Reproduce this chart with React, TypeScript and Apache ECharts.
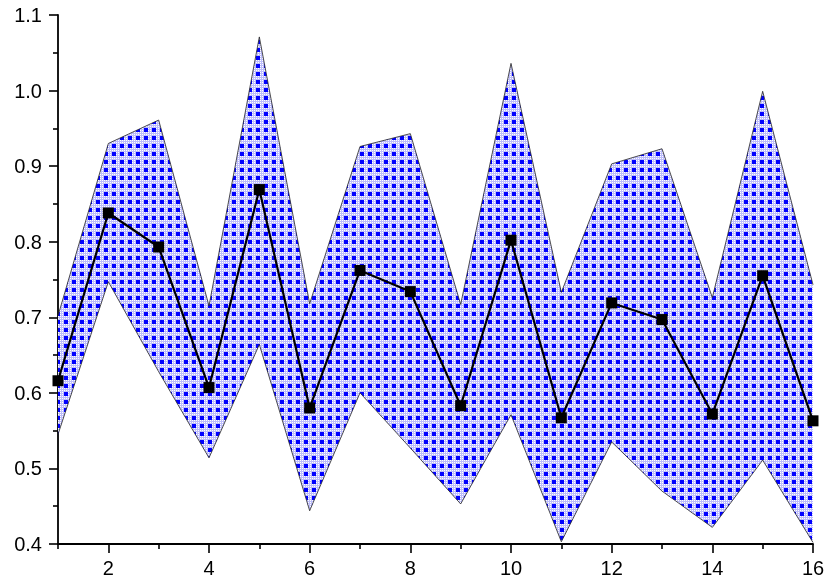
import React, { useEffect, useRef } from "react";
import * as echarts from "echarts";

const xValues = [1, 2, 3, 4, 5, 6, 7, 8, 9, 10, 11, 12, 13, 14, 15, 16];
const meanValues = [0.616, 0.838, 0.793, 0.607, 0.869, 0.580, 0.762, 0.734, 0.583, 0.802, 0.567, 0.719, 0.697, 0.572, 0.755, 0.563];
const upperValues = [0.702, 0.930, 0.961, 0.715, 1.071, 0.718, 0.926, 0.943, 0.717, 1.036, 0.733, 0.903, 0.923, 0.726, 0.999, 0.743];
const lowerValues = [0.545, 0.747, 0.628, 0.514, 0.664, 0.444, 0.600, 0.527, 0.453, 0.571, 0.403, 0.535, 0.470, 0.422, 0.511, 0.402];
const xMajorTicks = [2, 4, 6, 8, 10, 12, 14, 16];
const xMinorTicks = [1, 3, 5, 7, 9, 11, 13, 15];

function makePattern(): HTMLCanvasElement {
  const c = document.createElement("canvas");
  c.width = 8;
  c.height = 8;
  const ctx = c.getContext("2d")!;
  ctx.fillStyle = "#ffffff";
  ctx.fillRect(0, 0, 8, 8);
  ctx.fillStyle = "#bcbcfc";
  const hash = (ox: number, oy: number) => {
    for (let i = 0; i < 4; i++) {
      for (let j = 0; j < 4; j++) {
        if (i === 1 || i === 3 || j === 1 || j === 3) ctx.fillRect(ox + i, oy + j, 1, 1);
      }
    }
  };
  hash(4, 0);
  hash(0, 4);
  hash(4, 4);
  ctx.fillStyle = "#0000ff";
  ctx.fillRect(0, 0, 4, 4);
  return c;
}

export default function App() {
  const ref = useRef<HTMLDivElement>(null);
  useEffect(() => {
    if (!ref.current) return;
    const chart = echarts.init(ref.current, null, { renderer: "svg" });
    const canvas = makePattern();
    const font = "'Liberation Sans', Arial, sans-serif";
    const lower = xValues.map((x, i) => [x, lowerValues[i]]);
    const upper = xValues.map((x, i) => [x, upperValues[i]]);
    const mean = xValues.map((x, i) => [x, meanValues[i]]);
    const band = xValues.map((x, i) => [x, lowerValues[i], upperValues[i]]);
    chart.setOption({
      animation: false,
      grid: { left: 58, right: 17, top: 15, bottom: 43, containLabel: false },
      xAxis: [
        {
          type: "value",
          min: 1,
          max: 16,
          axisLine: { show: true, lineStyle: { color: "#000", width: 1.8 } },
          axisTick: { show: true, customValues: xMajorTicks, length: 9, lineStyle: { color: "#000", width: 1.6 } },
          axisLabel: { customValues: xMajorTicks, margin: 14, color: "#000", fontSize: 20, fontFamily: font },
          splitLine: { show: false },
        },
        {
          type: "value",
          min: 1,
          max: 16,
          position: "bottom",
          axisLine: { show: false },
          axisTick: { show: true, customValues: xMinorTicks, length: 5, lineStyle: { color: "#000", width: 1.6 } },
          axisLabel: { show: false },
          splitLine: { show: false },
        },
      ],
      yAxis: {
        type: "value",
        min: 0.4,
        max: 1.1,
        interval: 0.1,
        axisLine: { show: true, lineStyle: { color: "#000", width: 1.8 } },
        axisTick: { show: true, length: 9, lineStyle: { color: "#000", width: 1.6 } },
        minorTick: { show: true, splitNumber: 2, length: 5, lineStyle: { color: "#000", width: 1.6 } },
        axisLabel: {
          margin: 16,
          color: "#000",
          fontSize: 20,
          fontFamily: font,
          formatter: (v: number) => v.toFixed(1),
        },
        splitLine: { show: false },
      },
      series: [
        {
          type: "custom",
          data: band,
          encode: { x: 0, y: [1, 2] },
          z: 1,
          renderItem: (params: any, api: any) => {
            if (params.dataIndex !== 0) return null;
            const top = band.map((d) => api.coord([d[0], d[2]]));
            const bottom = band.map((d) => api.coord([d[0], d[1]])).reverse();
            return {
              type: "polygon",
              shape: { points: top.concat(bottom) },
              style: {
                fill: { image: canvas, repeat: "repeat", imageWidth: 8, imageHeight: 8 },
                stroke: "none",
              },
            };
          },
        },
        {
          type: "line",
          data: upper,
          symbol: "none",
          lineStyle: { color: "#222", width: 0.8 },
          z: 2,
        },
        {
          type: "line",
          data: lower,
          symbol: "none",
          lineStyle: { color: "#222", width: 0.8 },
          z: 2,
        },
        {
          type: "line",
          data: mean,
          symbol: "rect",
          symbolSize: 11,
          itemStyle: { color: "#000" },
          lineStyle: { color: "#000", width: 2.2 },
          z: 3,
        },
      ],
    });
    return () => chart.dispose();
  }, []);
  return (
    <div
      ref={ref}
      style={{ position: "fixed", left: 0, top: 0, width: 830, height: 587 }}
    />
  );
}
